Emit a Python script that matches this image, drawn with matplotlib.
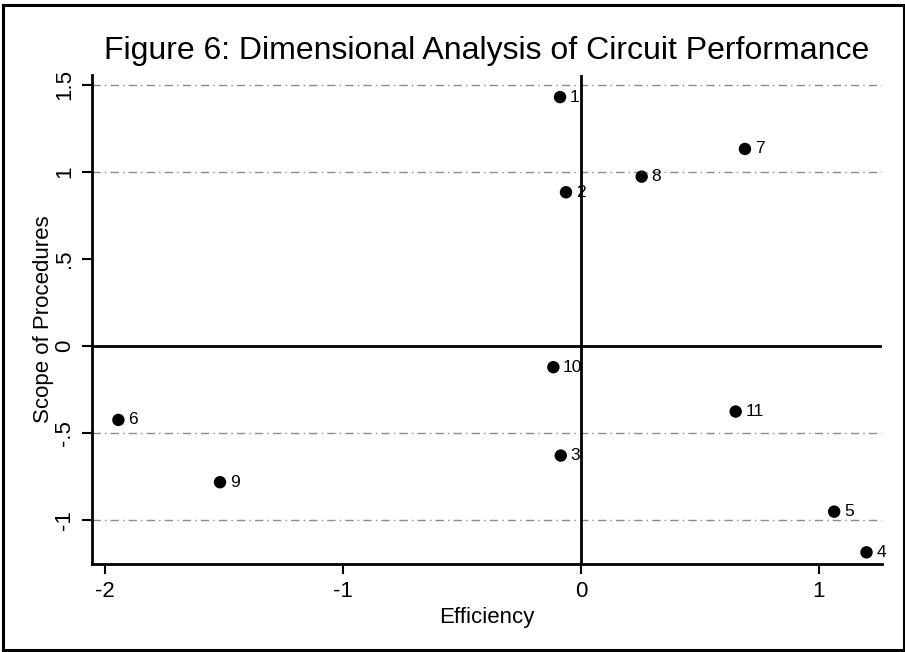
import matplotlib
matplotlib.use("Agg")
import matplotlib.pyplot as plt
from matplotlib.patches import Rectangle

plt.rcParams['font.family'] = ['Liberation Sans', 'DejaVu Sans']

# Data
labels = ["1", "2", "3", "4", "5", "6", "7", "8", "9", "10", "11"]
efficiency = [-0.088, -0.063, -0.085, 1.200, 1.064, -1.944, 0.689, 0.255, -1.517, -0.116, 0.650]
scope = [1.43, 0.883, -0.630, -1.186, -0.952, -0.425, 1.132, 0.973, -0.783, -0.122, -0.377]

xticks = [-2, -1, 0, 1]
xtick_labels = ["-2", "-1", "0", "1"]
yticks = [-1, -0.5, 0, 0.5, 1, 1.5]
ytick_labels = ["-1", "-.5", "0", ".5", "1", "1.5"]
grid_levels = [1.5, 1, -0.5, -1]

W, H = 905, 652
fig = plt.figure(figsize=(W / 100, H / 100), dpi=100)

# axes in pixel coordinates
ax_l, ax_r, ax_t, ax_b = 92, 882, 75, 564
ax = fig.add_axes([ax_l / W, 1 - ax_b / H, (ax_r - ax_l) / W, (ax_b - ax_t) / H])

ax.set_xlim(-2.055, 1.265)
ax.set_ylim(-1.253, 1.557)

for g in grid_levels:
    ax.axhline(g, color="#8c8c8c", lw=1.0, ls=(0, (6, 3, 1, 3)), zorder=1)

ax.axhline(0, color="black", lw=2.0, zorder=2)
ax.axvline(0, color="black", lw=2.0, zorder=2)

ax.scatter(efficiency, scope, s=80, color="black", zorder=3, edgecolors="none")
for lab, x, y in zip(labels, efficiency, scope):
    ax.annotate(lab, (x, y), xytext=(7, 0), textcoords="offset points",
                va="center", ha="left", fontsize=12.5, color="black", zorder=4)

for s in ["top", "right"]:
    ax.spines[s].set_visible(False)
for s in ["left", "bottom"]:
    ax.spines[s].set_linewidth(2.0)
    ax.spines[s].set_color("black")

ax.set_xticks(xticks)
ax.set_xticklabels(xtick_labels, fontsize=16)
ax.set_yticks(yticks)
ax.set_yticklabels(ytick_labels, fontsize=16, rotation=90, va="center")
ax.tick_params(axis="both", direction="out", length=7, width=1.5, colors="black")
ax.tick_params(axis="x", pad=5)
ax.tick_params(axis="y", pad=5)

ax.set_xlabel("Efficiency", fontsize=16, labelpad=4)
ax.set_ylabel("Scope of Procedures", fontsize=16, labelpad=0)

fig.text((ax_l + ax_r) / 2 / W, 1 - 59 / H, "Figure 6: Dimensional Analysis of Circuit Performance",
         ha="center", va="baseline", fontsize=23, color="black")

# outer border
fig.patches.append(Rectangle((3 / W, 1 - 650 / H), (904 - 3) / W, (650 - 5) / H,
                             transform=fig.transFigure, fill=False,
                             edgecolor="black", lw=2.2))

fig.savefig("out.png", dpi=100)
